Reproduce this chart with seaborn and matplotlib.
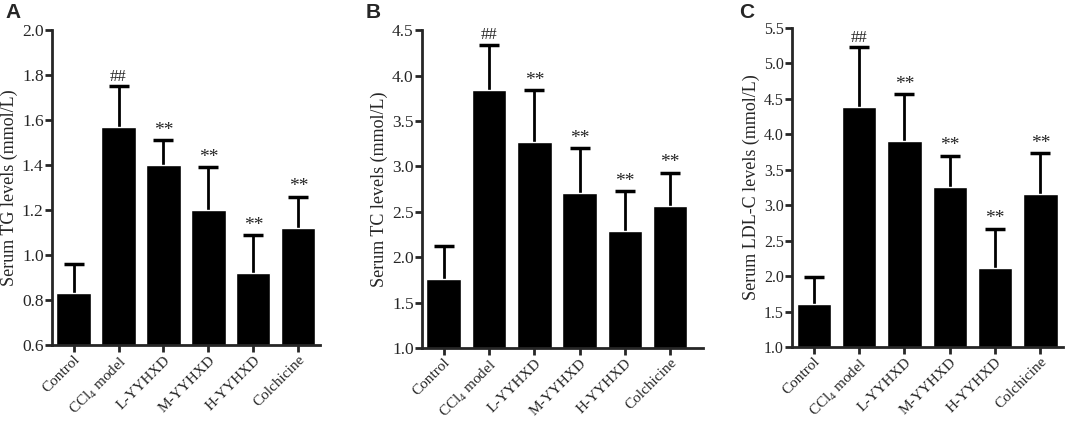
import matplotlib
matplotlib.use("Agg")
import matplotlib.pyplot as plt
import seaborn as sns
import pandas as pd

groups = ["Control", "CCl$_4$ model", "L-YYHXD", "M-YYHXD", "H-YYHXD", "Colchicine"]

tg_mean = [0.83, 1.57, 1.40, 1.20, 0.92, 1.12]
tg_sd = [0.13, 0.18, 0.11, 0.19, 0.17, 0.14]
tc_mean = [1.76, 3.84, 3.27, 2.71, 2.29, 2.56]
tc_sd = [0.36, 0.50, 0.57, 0.49, 0.44, 0.37]
ldl_mean = [1.60, 4.39, 3.90, 3.25, 2.11, 3.16]
ldl_sd = [0.38, 0.84, 0.67, 0.45, 0.56, 0.57]

marks = ["", "##", "**", "**", "**", "**"]

sns.set_style("ticks")
plt.rcParams["font.family"] = ["Liberation Serif", "DejaVu Serif"]
plt.rcParams["mathtext.fontset"] = "custom"
plt.rcParams["mathtext.rm"] = "Liberation Serif"

fig = plt.figure(figsize=(10.65, 4.21), dpi=100)

panels = [
    ("A", tg_mean, tg_sd, "Serum TG levels (mmol/L)", (0.6, 2.0), 0.2,
     [0.0488, 0.1805, 0.2516, 0.748], (-0.48, 5.48), 12.5, 5),
    ("B", tc_mean, tc_sd, "Serum TC levels (mmol/L)", (1.0, 4.5), 0.5,
     [0.3962, 0.1734, 0.2638, 0.755], (-0.48, 5.72), 12.5, 366),
    ("C", ldl_mean, ldl_sd, "Serum LDL-C levels (mmol/L)", (1.0, 5.5), 0.5,
     [0.7437, 0.1758, 0.2545, 0.758], (-0.48, 5.5), 11.5, 739),
]

for letter, mean, sd, ylab, ylim, step, rect, xlim, tsize, lx in panels:
    ax = fig.add_axes(rect)
    df = pd.DataFrame({"group": groups, "value": mean})
    sns.barplot(data=df, x="group", y="value", color="black", width=0.76,
                errorbar=None, ax=ax, saturation=1)
    eb = ax.errorbar(range(len(groups)), mean, yerr=[[0] * len(sd), sd], fmt="none",
                     ecolor="black", elinewidth=2, capsize=7, capthick=2.5, zorder=0.5)
    eb[1][0].set_visible(False)  # hide the cap sitting on the bar top
    for i, (m, s, t) in enumerate(zip(mean, sd, marks)):
        if t:
            ax.text(i, m + s + (ylim[1] - ylim[0]) * 0.004, t, ha="center",
                    va="bottom", fontsize=14 if t == "**" else 12)
    ax.set_ylim(*ylim)
    ax.set_xlim(*xlim)
    n = int(round((ylim[1] - ylim[0]) / step))
    ticks = [ylim[0] + k * step for k in range(n + 1)]
    ax.set_yticks(ticks)
    ax.set_yticklabels([f"{t:.1f}" for t in ticks], fontsize=tsize)
    ax.set_xticks(range(len(groups)))
    ax.set_xticklabels(groups, rotation=45, ha="right", rotation_mode="anchor",
                       fontsize=11)
    ax.set_xlabel("")
    ax.set_ylabel(ylab, fontsize=13, labelpad=3)
    sns.despine(ax=ax)
    for sp in ["left", "bottom"]:
        ax.spines[sp].set_linewidth(2)
    ax.tick_params(axis="both", width=2, length=5, direction="out", pad=1)
    fig.text(lx / 1065, 1 - 3 / 421, letter, fontsize=15, fontweight="bold",
             family="Liberation Sans", va="top", ha="left")

fig.savefig("out.png", dpi=100)
